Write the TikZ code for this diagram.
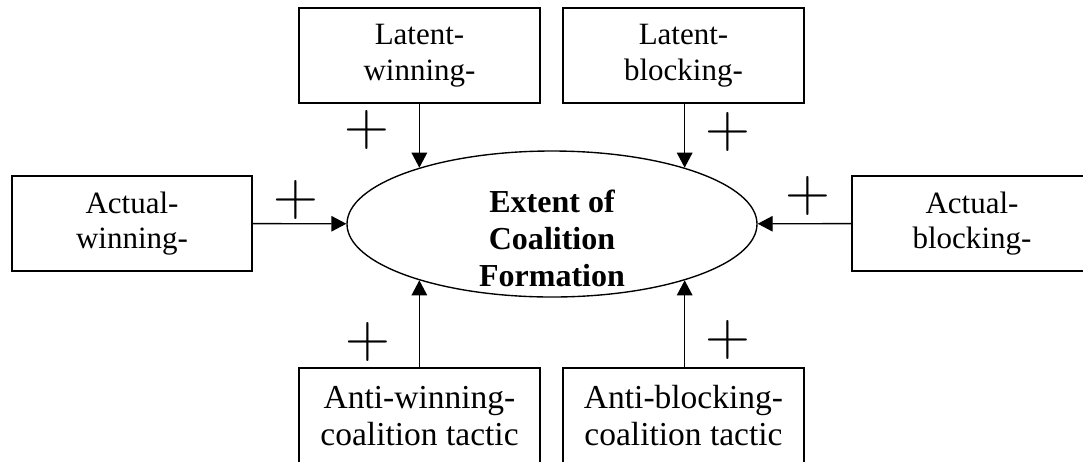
\documentclass[tikz,border=0pt]{standalone}
\usepackage{fontspec}
\setmainfont{Liberation Serif}
\usetikzlibrary{shapes.geometric,arrows.meta}

\tikzset{
  factor/.style={draw, line width=0.55pt, minimum width=96.4pt, minimum height=38pt,
    inner sep=0pt, align=center, font=\fontsize{12.4}{14.2}\selectfont},
  tactic/.style={factor, minimum height=38.4pt, font=\fontsize{13.4}{14.8}\selectfont},
  outcome/.style={ellipse, draw, line width=0.55pt, minimum width=164pt,
    minimum height=58.4pt, inner sep=0pt},
  effect/.style={-{Triangle[length=6pt,width=6.2pt]}, line width=0.55pt},
  plussign/.style={inner sep=0pt, font=\fontsize{23.4}{23.4}\selectfont}
}

\begin{document}
\begin{tikzpicture}[x=0.4pt, y=-0.4pt]
    \useasboundingbox (0,0) rectangle (1083,461);

    % centre
    \node[outcome] (ell) at (552,224) {};
    \node[align=center, inner sep=0pt, font=\bfseries\fontsize{12.8}{14.8}\selectfont] (ttl) at (552,238) {Extent of\\Coalition\\Formation};

    % coalition factors
    \node[factor] (lw) at (419.5,55.5) {Latent-\\winning-};
    \node[factor] (lb) at (683.5,55.5) {Latent-\\blocking-};
    \node[factor, minimum width=96pt] (aw) at (132,223.5) {Actual-\\winning-};
    \node[factor, minimum width=96pt] (ab) at (972,223.5) {Actual-\\blocking-};

    % tactics
    \node[tactic] (tw) at (419.5,416) {Anti-winning-\\coalition tactic};
    \node[tactic] (tb) at (683.5,416) {Anti-blocking-\\coalition tactic};

    % effects
    \draw[effect] (ell.157 |- lw.south) -- (ell.157);
    \draw[effect] (ell.23 |- lb.south) -- (ell.23);
    \draw[effect] (aw) -- (ell);
    \draw[effect] (ab) -- (ell);
    \draw[effect] (ell.203 |- tw.north) -- (ell.203);
    \draw[effect] (ell.337 |- tb.north) -- (ell.337);

    % signs
    \node[plussign] (slw) at (367,130) {$+$};
    \node[plussign] (slb) at (728,132) {$+$};
    \node[plussign] (saw) at (296,200) {$+$};
    \node[plussign] (sab) at (808,196) {$+$};
    \node[plussign] (stw) at (368,342) {$+$};
    \node[plussign] (stb) at (728,340) {$+$};
\end{tikzpicture}
\end{document}
